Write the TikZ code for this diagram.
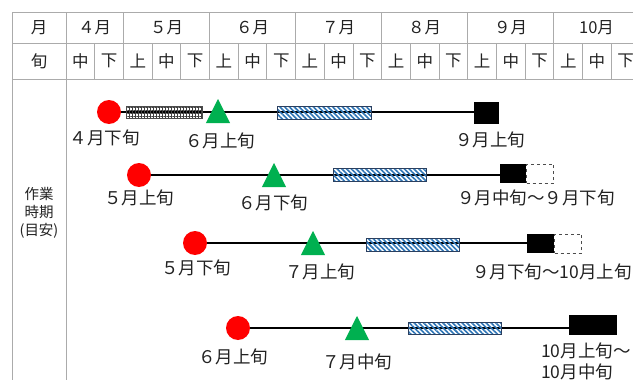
\documentclass[tikz,border=0pt]{standalone}
\usepackage{fontspec}
\setmainfont{Noto Sans CJK JP}
\usetikzlibrary{shapes.geometric,patterns.meta,backgrounds}

\definecolor{rulegray}{HTML}{ABABAB}
\definecolor{txt}{HTML}{222222}
\definecolor{markred}{HTML}{FF0000}
\definecolor{markgreen}{HTML}{00B050}
\definecolor{stripeblue}{HTML}{2E75B6}
\definecolor{barline}{HTML}{2A3F5F}

\begin{document}
\begin{tikzpicture}[x=1pt,y=-1pt,
  rule/.style={draw=rulegray,line width=1pt},
  hd/.style={text=txt,inner sep=0pt,font=\fontsize{16.5}{19}\selectfont},
  lbl/.style={text=txt,inner sep=0pt,font=\fontsize{17.5}{21}\selectfont},
  conn/.style={draw=black,line width=2pt},
  startmark/.style={circle,fill=markred,minimum size=24pt,inner sep=0pt},
  midmark/.style={regular polygon,regular polygon sides=3,fill=markgreen,
    minimum size=32pt,inner sep=0pt,xscale=0.87},
  gridbar/.style={rectangle,draw=black!70,line width=0.6pt,fill=white,inner sep=0pt,
    pattern={Hatch[distance=3pt,line width=0.4pt]},pattern color=black!75},
  stripebar/.style={rectangle,draw=barline,line width=0.8pt,inner sep=0pt,
    pattern={Lines[angle=-45,distance=3.4pt,line width=1.6pt]},pattern color=stripeblue},
  endmark/.style={rectangle,fill=black,inner sep=0pt},
  spanbox/.style={rectangle,draw=black!70,dashed,line width=0.7pt,fill=white,inner sep=0pt}]

\useasboundingbox (0,0) rectangle (633,380);

% --- table frame ---
\draw[rule] (12,12) -- (633,12);
\draw[rule] (12,43) -- (633,43);
\draw[rule] (12,79) -- (633,79);
\draw[rule] (12,12) -- (12,380);
\draw[rule] (66,12) -- (66,380);
\foreach \k in {2,5,8,11,14,17}
  \draw[rule] ({66+28.7*\k},12) -- ({66+28.7*\k},79);
\foreach \k in {1,3,4,6,7,9,10,12,13,15,16,18,19}
  \draw[rule] ({66+28.7*\k},43) -- ({66+28.7*\k},79);

% --- header text ---
\node[hd] (hmon) at (39,27.5) {月};
\node[hd] (hdec) at (39,61) {旬};
\foreach \n/\x/\t in {m4/94.7/４月,m5/166.5/５月,m6/252.5/６月,m7/338.5/７月,
                      m8/424.5/８月,m9/510.5/９月,m10/596.5/10月}
  \node[hd] (\n) at (\x,27.5) {\t};
\foreach \k/\t in {0/中,1/下,2/上,3/中,4/下,5/上,6/中,7/下,8/上,9/中,10/下,
                   11/上,12/中,13/下,14/上,15/中,16/下,17/上,18/中,19/下}
  \node[hd] (d\k) at ({66+28.7*\k+14.35},61) {\t};

\node[text=txt,inner sep=0pt,align=center,font=\fontsize{14.5}{18}\selectfont]
  (work) at (39,213) {作業\\時期\\(目安)};

% --- row 1 ---
\node[startmark] (c1) at (109,112) {};
\node[gridbar,minimum width=76pt,minimum height=12pt] (g1) at (164,112.5) {};
\node[midmark] (t1) at (218,115) {};
\node[stripebar,minimum width=94pt,minimum height=13pt] (b1) at (324,112.5) {};
\node[endmark,minimum width=25pt,minimum height=22pt] (s1) at (486.5,112.5) {};
\begin{scope}[on background layer]
  \draw[conn] (c1) -- (c1 -| s1.west);
\end{scope}
\node[lbl] (l1a) at (105,138) {４月下旬};
\node[lbl] (l1b) at (220,141) {６月上旬};
\node[lbl] (l1c) at (490,140) {９月上旬};

% --- row 2 ---
\node[startmark] (c2) at (139,175) {};
\node[midmark] (t2) at (274,179) {};
\node[stripebar,minimum width=93pt,minimum height=13pt] (b2) at (379.5,174.5) {};
\node[endmark,minimum width=26pt,minimum height=19pt] (s2) at (513,173.5) {};
\node[spanbox,minimum width=27pt,minimum height=19pt,anchor=west] (e2) at (s2.east) {};
\begin{scope}[on background layer]
  \draw[conn] (c2) -- (c2 -| s2.west);
\end{scope}
\node[lbl] (l2a) at (139,198) {５月上旬};
\node[lbl] (l2b) at (273,203) {６月下旬};
\node[lbl] (l2c) at (536,198) {９月中旬～９月下旬};

% --- row 3 ---
\node[startmark] (c3) at (195,243) {};
\node[midmark] (t3) at (313,247) {};
\node[stripebar,minimum width=93pt,minimum height=13pt] (b3) at (412.5,244.5) {};
\node[endmark,minimum width=27pt,minimum height=19pt] (s3) at (540.5,243.5) {};
\node[spanbox,minimum width=27pt,minimum height=19pt,anchor=west] (e3) at (s3.east) {};
\begin{scope}[on background layer]
  \draw[conn] (c3) -- (c3 -| s3.west);
\end{scope}
\node[lbl] (l3a) at (196,268) {５月下旬};
\node[lbl] (l3b) at (320,272) {７月上旬};
\node[lbl] (l3c) at (552,272) {９月下旬～10月上旬};

% --- row 4 ---
\node[startmark] (c4) at (238,328) {};
\node[midmark] (t4) at (357,332) {};
\node[stripebar,minimum width=93pt,minimum height=12pt] (b4) at (454.5,328) {};
\node[endmark,minimum width=48pt,minimum height=20pt] (s4) at (593,325) {};
\begin{scope}[on background layer]
  \draw[conn] (c4) -- (c4 -| s4.west);
\end{scope}
\node[lbl] (l4a) at (233,357) {６月上旬};
\node[lbl] (l4b) at (357,362) {７月中旬};
\node[lbl,align=left,anchor=north west] (l4c) at (541,343) {10月上旬～\\10月中旬};

\end{tikzpicture}
\end{document}
